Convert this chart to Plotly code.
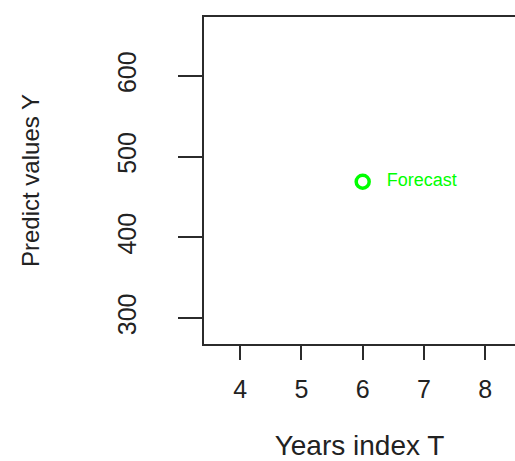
import plotly.graph_objects as go

# Data
years_index = [6]
predicted = [469]
point_labels = ["Forecast"]
x_ticks = [4, 5, 6, 7, 8]
y_ticks = [300, 400, 500, 600]

FONT = "Liberation Sans, Arial, sans-serif"
AXIS_COLOR = "#2b2b2b"
GREEN = "#00ff00"

fig = go.Figure()
fig.add_trace(go.Scatter(
    x=years_index, y=predicted, mode="markers+text",
    text=["   " + t for t in point_labels], textposition="middle right",
    textfont=dict(family=FONT, size=18, color=GREEN),
    marker=dict(symbol="circle-open", size=13, color=GREEN, line=dict(width=3.5, color=GREEN)),
    showlegend=False, cliponaxis=False,
))

fig.update_layout(
    width=515, height=461,
    margin=dict(l=204, r=0, t=17, b=117, autoexpand=False),
    paper_bgcolor="white", plot_bgcolor="white",
    font=dict(family=FONT, color="#222"),
    xaxis=dict(
        range=[3.41, 8.486], tickmode="array", tickvals=x_ticks,
        ticktext=[str(v) for v in x_ticks],
        showgrid=False, zeroline=False, automargin=False,
        showline=True, linecolor=AXIS_COLOR, linewidth=2, mirror=True,
        ticks="outside", ticklen=14, tickwidth=2, tickcolor=AXIS_COLOR,
        tickfont=dict(family=FONT, size=25, color="#222"),
        ticklabelstandoff=8,
        title=dict(text="Years index T", font=dict(family=FONT, size=28, color="#222"), standoff=50),
    ),
    yaxis=dict(
        range=[268, 673], tickmode="array", tickvals=y_ticks,
        ticktext=[str(v) for v in y_ticks],
        showgrid=False, zeroline=False, automargin=False,
        showline=True, linecolor=AXIS_COLOR, linewidth=2, mirror=False,
        ticks="outside", ticklen=24, tickwidth=2, tickcolor=AXIS_COLOR,
        tickangle=-90,
        tickfont=dict(family=FONT, size=25, color="#222"),
        ticklabelstandoff=32,
        title=dict(text="Predict values Y", font=dict(family=FONT, size=24, color="#222"), standoff=67),
    ),
)

fig.write_html("out.html", config={"displayModeBar": False},
               post_script="document.body.style.margin='0px';")
